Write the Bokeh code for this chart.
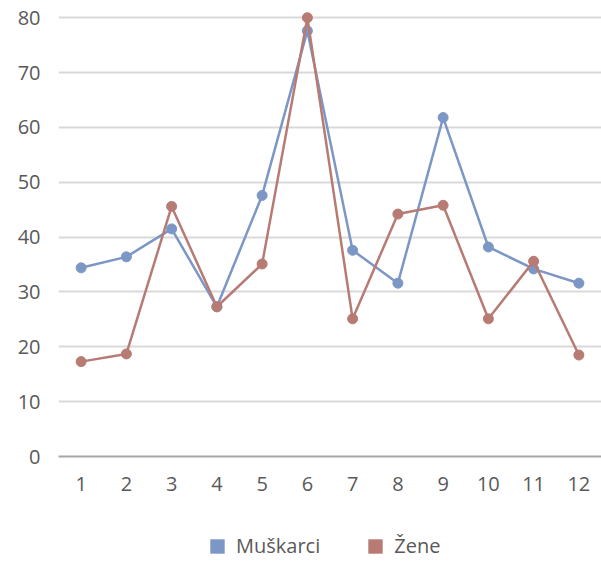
from bokeh.plotting import figure
from bokeh.models import ColumnDataSource, Legend, LegendItem, FixedTicker, Range1d
from bokeh.layouts import column
from bokeh.embed import file_html
from bokeh.resources import INLINE

months = [1, 2, 3, 4, 5, 6, 7, 8, 9, 10, 11, 12]
muskarci = [34.4, 36.4, 41.5, 27.3, 47.6, 77.6, 37.6, 31.6, 61.8, 38.2, 34.2, 31.6]
zene = [17.3, 18.7, 45.6, 27.3, 35.1, 80.0, 25.1, 44.2, 45.8, 25.1, 35.6, 18.5]
series_names = ["Muškarci", "Žene"]
y_ticks = [0, 10, 20, 30, 40, 50, 60, 70, 80]

BLUE = "#7c97c5"
RED = "#b77b74"
FONT = "Open Sans"
TXT = "#595959"

p = figure(width=601, height=500, output_backend="svg", toolbar_location=None,
           x_range=Range1d(0.5, 12.5), y_range=Range1d(0, 81.5),
           min_border_left=58, min_border_right=0, min_border_top=9, min_border_bottom=44)
p.outline_line_color = None
p.background_fill_color = "white"
p.border_fill_color = "white"

src = ColumnDataSource(dict(x=months, m=muskarci, z=zene))

p.line("x", "m", source=src, line_color=BLUE, line_width=2.5)
p.scatter("x", "m", source=src, size=10, fill_color=BLUE, line_color=BLUE)
p.line("x", "z", source=src, line_color=RED, line_width=2.5)
p.scatter("x", "z", source=src, size=10, fill_color=RED, line_color=RED)

# axes
p.xaxis.ticker = FixedTicker(ticks=months)
p.xaxis.axis_line_color = "#a6a6a6"
p.xaxis.axis_line_width = 2
p.xaxis.major_tick_line_color = None
p.xaxis.minor_tick_line_color = None
p.xaxis.major_label_text_font = FONT
p.xaxis.major_label_text_font_size = "20px"
p.xaxis.major_label_text_color = TXT
p.xaxis.major_label_standoff = 14

p.yaxis.ticker = FixedTicker(ticks=y_ticks)
p.yaxis.axis_line_color = None
p.yaxis.major_tick_line_color = None
p.yaxis.minor_tick_line_color = None
p.yaxis.major_label_text_font = FONT
p.yaxis.major_label_text_font_size = "20px"
p.yaxis.major_label_text_color = TXT
p.yaxis.major_label_standoff = 12

p.xgrid.grid_line_color = None
p.ygrid.grid_line_color = "#d9d9d9"
p.ygrid.grid_line_width = 2

# legend strip below the chart
lg = figure(width=601, height=62, output_backend="svg", toolbar_location=None,
            x_range=Range1d(0.5, 12.5), y_range=Range1d(0, 80),
            min_border_left=0, min_border_right=0, min_border_top=0, min_border_bottom=0)
lg.outline_line_color = None
lg.axis.visible = False
lg.grid.visible = False
sw_m = lg.rect("x", "m", width=0, height=0, source=src, fill_color=BLUE, line_color=None)
sw_z = lg.rect("x", "z", width=0, height=0, source=src, fill_color=RED, line_color=None)

legend = Legend(items=[LegendItem(label=series_names[0], renderers=[sw_m]),
                       LegendItem(label=series_names[1], renderers=[sw_z])],
                orientation="horizontal", location=(150, 3),
                glyph_width=18, glyph_height=18, spacing=46, label_standoff=10,
                label_height=20, padding=2, margin=0,
                label_text_font=FONT, label_text_font_size="20px", label_text_color=TXT,
                border_line_color=None, background_fill_alpha=0)
lg.add_layout(legend, "center")

layout = column(p, lg, spacing=0)
open("out.html", "w").write(file_html(layout, INLINE))
